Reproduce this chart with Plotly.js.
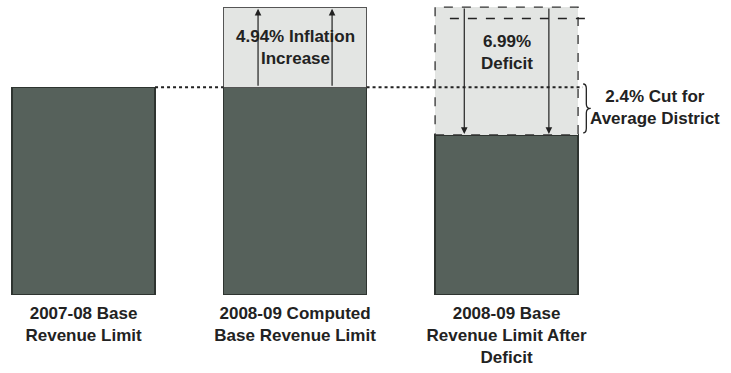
<!DOCTYPE html>
<html>
<head>
<meta charset="utf-8">
<script src="https://cdn.plot.ly/plotly-3.0.1.min.js"></script>
<style>
  html, body { margin: 0; padding: 0; background: #ffffff; }
  #chart { width: 731px; height: 373px; }
</style>
</head>
<body>
<div id="chart"></div>
<script>
// ---- data (schematic units) ----
const categories = [
  '2007-08 Base<br>Revenue Limit',
  '2008-09 Computed<br>Base Revenue Limit',
  '2008-09 Base<br>Revenue Limit After<br>Deficit'
];
const baseValues = [100, 100, 77];        // dark part of each bar
const upperValues = [0, 38.5, 61.5];      // light part: inflation increase / deficit
const deficitLineValue = 133;             // dashed reference line in the third bar
const inflationText = '4.94% Inflation<br>Increase';
const deficitText = '6.99%<br>Deficit';
const cutText = '2.4% Cut for<br>Average District';

// ---- styling ----
const FONT = '"Liberation Sans", Arial, sans-serif';
const DARK = '#56615b';
const LIGHT = '#e3e5e3';
const INK = '#222222';
const W = 0.676, HW = W / 2;

const traces = [
  {
    type: 'bar', x: categories, y: baseValues, width: W,
    marker: { color: DARK, line: { color: '#2e3430', width: 1.2 } },
    hoverinfo: 'skip', showlegend: false
  },
  {
    type: 'bar', x: categories, y: upperValues, width: W,
    marker: { color: LIGHT, line: { color: ['#444', '#555', 'rgba(0,0,0,0)'], width: [0, 1.2, 0] } },
    hoverinfo: 'skip', showlegend: false
  }
];

const shapes = [];
const top2 = baseValues[2] + upperValues[2];
// dashed outline of the deficit area of the third bar
shapes.push({ type: 'rect', xref: 'x', yref: 'y', x0: 2 - HW, x1: 2 + HW, y0: baseValues[2], y1: top2,
  line: { color: '#333', width: 1.3, dash: 'dash' }, layer: 'above' });
// dotted level line of the 2007-08 base
shapes.push({ type: 'line', xref: 'x', yref: 'y', x0: 0 + HW, x1: 1 - HW, y0: baseValues[0], y1: baseValues[0],
  line: { color: INK, width: 2, dash: 'dot' } });
shapes.push({ type: 'line', xref: 'x', yref: 'y', x0: 1 + HW, x1: 2.36, y0: baseValues[0], y1: baseValues[0],
  line: { color: INK, width: 2, dash: 'dot' } });
// dashed line near the top of the third bar
shapes.push({ type: 'line', xref: 'x', yref: 'y', x0: 2 - HW + 0.07, x1: 2.385, y0: deficitLineValue, y1: deficitLineValue,
  line: { color: INK, width: 1.6, dash: 'dash' } });
// curly brace for the 2.4% cut
(function () {
  const yT = baseValues[0] + 1.5, yB = baseValues[2] + 1, yM = (yT + yB) / 2;
  const x0 = 2.362, xm = 2.377, xt = 2.398, r = 2.2;
  const p = `M ${x0},${yT} Q ${xm},${yT} ${xm},${yT - r} L ${xm},${yM + r} Q ${xm},${yM} ${xt},${yM} ` +
            `Q ${xm},${yM} ${xm},${yM - r} L ${xm},${yB + r} Q ${xm},${yB} ${x0},${yB}`;
  shapes.push({ type: 'path', xref: 'x', yref: 'y', path: p, line: { color: INK, width: 1.3 } });
})();

const annotations = [];
function arrow(x, yHead, yTail) {
  annotations.push({ xref: 'x', yref: 'y', axref: 'x', ayref: 'y', x: x, y: yHead, ax: x, ay: yTail,
    text: '', showarrow: true, arrowhead: 2, arrowsize: 1.1, arrowwidth: 1.2, arrowcolor: INK, standoff: 0 });
}
const top1 = baseValues[1] + upperValues[1];
arrow(1 - 0.175, top1 - 0.8, baseValues[1]);
arrow(1 + 0.175, top1 - 0.8, baseValues[1]);
arrow(2 - 0.2, baseValues[2] + 0.5, top2);
arrow(2 + 0.2, baseValues[2] + 0.5, top2);

const textFont = { family: FONT, size: 17, color: INK, weight: 'bold' };
annotations.push({ xref: 'x', yref: 'y', x: 1, y: 119.3, text: inflationText, showarrow: false,
  font: textFont, align: 'center' });
annotations.push({ xref: 'x', yref: 'y', x: 2, y: 116.5, text: deficitText, showarrow: false,
  font: textFont, align: 'center' });
annotations.push({ xref: 'x', yref: 'y', x: 2.70, y: 90.4, text: cutText, showarrow: false,
  font: textFont, align: 'center' });

const layout = {
  width: 731, height: 373,
  margin: { l: 0, r: 0, t: 4, b: 78, pad: 0 },
  paper_bgcolor: '#ffffff', plot_bgcolor: '#ffffff',
  barmode: 'stack',
  showlegend: false,
  xaxis: {
    type: 'category', range: [-0.395, 3.061],
    showgrid: false, zeroline: false, showline: false, ticks: '',
    ticklabelstandoff: 6,
    tickfont: { family: FONT, size: 17, color: INK, weight: 'bold' }
  },
  yaxis: {
    range: [0, 140], showgrid: false, zeroline: false, showline: false,
    showticklabels: false, ticks: ''
  },
  shapes: shapes,
  annotations: annotations
};

Plotly.newPlot('chart', traces, layout, { staticPlot: true, displayModeBar: false });
</script>
</body>
</html>
